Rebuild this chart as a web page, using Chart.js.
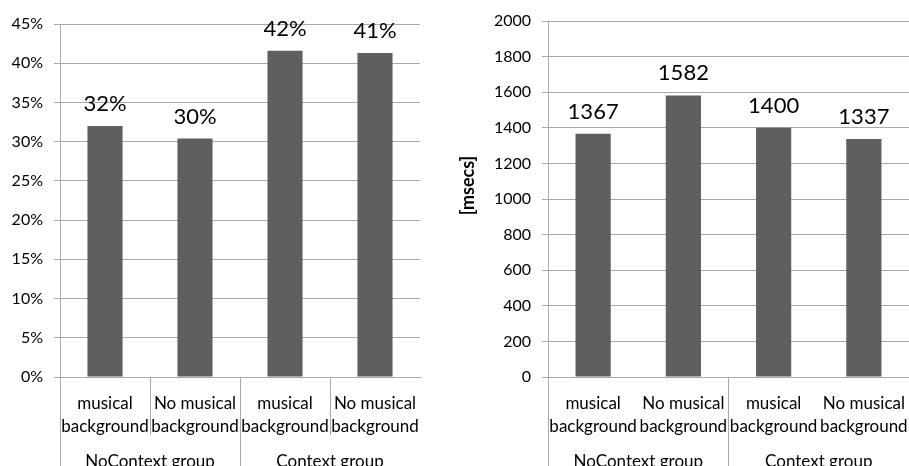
<!DOCTYPE html>
<html>
<head>
<meta charset="utf-8">
<script src="https://cdn.jsdelivr.net/npm/chart.js@4"></script>
<style>
  body { margin: 0; background: #fff; overflow: hidden; }
  #left { position: absolute; left: 0; top: 0; }
  #right { position: absolute; left: 455px; top: 0; }
</style>
</head>
<body>
<canvas id="left" width="455" height="466"></canvas>
<canvas id="right" width="454" height="466"></canvas>
<script>
// data
const categories = [
    ['musical', 'background'],
    ['No musical', 'background'],
    ['musical', 'background'],
    ['No musical', 'background']
]
const groups = ['NoContext group', 'Context group']
const accuracy = [32.0, 30.4, 41.6, 41.3]      // percent
const responseTimes = [1367, 1582, 1400, 1337] // msecs

const barColor = '#5f5f5f'
const lineColor = '#a9a9a9'
const fontFamily = 'Lato, "Open Sans", sans-serif'

Chart.defaults.font.family = fontFamily
Chart.defaults.font.size = 16
Chart.defaults.color = '#000'

// draws the value above each bar, from the bar elements' own positions
function valueLabels(format) {
    return {
        id: 'valueLabels',
        afterDatasetsDraw(chart) {
            const ctx = chart.ctx
            const meta = chart.getDatasetMeta(0)
            const values = chart.data.datasets[0].data
            ctx.save()
            ctx.font = '22px ' + fontFamily
            ctx.fillStyle = '#000'
            ctx.textAlign = 'center'
            ctx.textBaseline = 'alphabetic'
            meta.data.forEach((bar, i) => {
                ctx.fillText(format(values[i]), bar.x, bar.y - 15)
            })
            ctx.restore()
        }
    }
}

function makeChart(el, values, yOpts, innerLines, yWidth, pad, format) {
    return new Chart(document.getElementById(el), {
        type: 'bar',
        data: {
            labels: categories,
            datasets: [{
                data: values,
                backgroundColor: barColor,
                borderWidth: 0,
                categoryPercentage: 1,
                barPercentage: 0.39
            }]
        },
        options: {
            responsive: false,
            animation: false,
            layout: { padding: pad },
            plugins: { legend: { display: false }, tooltip: { enabled: false } },
            scales: {
                x: {
                    weight: 0,
                    border: { color: lineColor },
                    grid: {
                        drawOnChartArea: false,
                        tickLength: 58,
                        // separators below the axis, only where the picture has them
                        color: c => (c.type === 'tick' && innerLines.includes(c.index)) ? lineColor : 'rgba(0,0,0,0)'
                    },
                    ticks: { padding: -43, maxRotation: 0, autoSkip: false, font: { size: 17, lineHeight: 1.35 } },
                    afterFit: s => { s.height = 58 }
                },
                x2: {
                    type: 'category',
                    labels: groups,
                    position: 'bottom',
                    offset: true,
                    weight: 1,
                    border: { display: false },
                    grid: {
                        offset: true,
                        drawOnChartArea: false,
                        tickLength: 40,
                        color: c => c.type === 'tick' ? lineColor : 'rgba(0,0,0,0)'
                    },
                    ticks: { padding: -24, maxRotation: 0, font: { size: 17 } },
                    afterFit: s => { s.height = 31 }
                },
                y: Object.assign({
                    beginAtZero: true,
                    border: { color: lineColor },
                    grid: { color: lineColor, tickLength: 6 },
                    afterFit: s => { s.width = yWidth }
                }, yOpts)
            }
        },
        plugins: [valueLabels(format)]
    })
}

makeChart('left', accuracy, {
    min: 0,
    max: 45,
    ticks: { stepSize: 5, padding: 11, callback: v => v + '%' }
}, [0, 1, 2, 3], 60, { top: 24, right: 35 }, v => Math.round(v) + '%')

makeChart('right', responseTimes, {
    min: 0,
    max: 2000,
    ticks: { stepSize: 200, padding: 11, callback: v => String(v) },
    // leading en spaces lift the title a little above the axis centre, as in the picture
    title: { display: true, text: '\u2002\u2002\u2002[msecs]', font: { size: 18, weight: 'bold', family: fontFamily }, padding: { top: 2, bottom: 0 } }
}, [0, 2], 93, { top: 21, right: 0 }, v => String(v))
</script>
</body>
</html>
